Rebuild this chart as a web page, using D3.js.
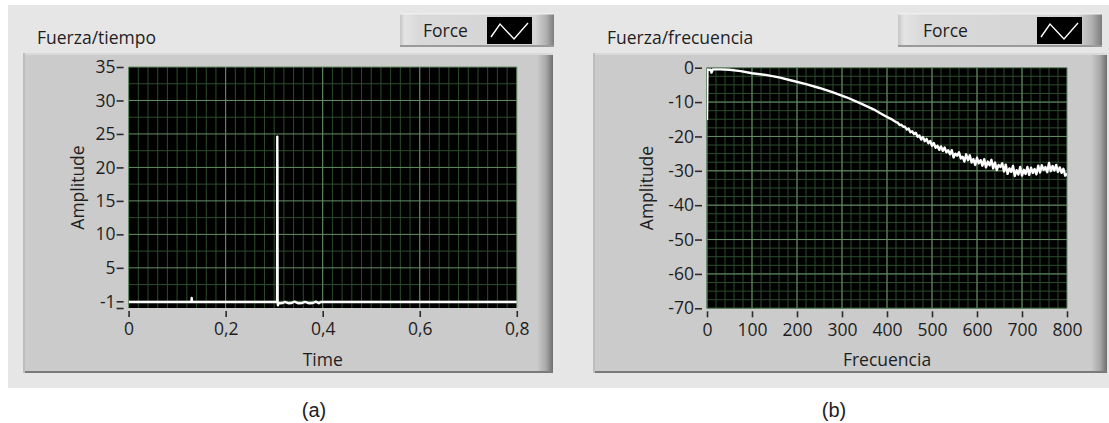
<!DOCTYPE html>
<html><head><meta charset="utf-8">
<script src="https://cdn.jsdelivr.net/npm/d3@7"></script>
<style>
html,body{margin:0;padding:0;background:#fff;}
svg{display:block;}
text{font-family:"Open Sans","Noto Sans",sans-serif;fill:#1e1e1e;}
</style></head><body>
<svg id="chart" width="1109" height="423"></svg>
<script>
// ---- Force vs time (impact hammer pulse) ----
const timeS = [0, 0.1295, 0.1300, 0.1305, 0.3060, 0.3064, 0.3067, 0.3071, 0.3078, 0.3090, 0.3120,
  0.3180, 0.3220, 0.3300, 0.3360, 0.3420, 0.3500, 0.3580, 0.3640, 0.3720, 0.3800, 0.3860,
  0.3920, 0.3960, 0.8];
const forceT = [-0.1, -0.1, 0.5, -0.1, -0.1, 24.6, 20.0, -0.2, -0.6, -0.25, -0.3,
  -0.25, -0.1, -0.3, -0.25, -0.05, -0.3, -0.25, -0.1, -0.3, -0.25, -0.05,
  -0.3, -0.1, -0.1];
const timeTicks = [0, 0.2, 0.4, 0.6, 0.8];
const forceTicks = [35, 30, 25, 20, 15, 10, 5, 0, -1];

// ---- Force spectrum (dB) ----
const freqHz = [0, 1, 8, 10, 13, 30, 50, 75, 100, 130, 160, 190, 220, 250, 280, 310, 340, 370, 390, 404, 412, 416,
  420, 424, 428, 432, 436, 440, 444, 448, 452, 456, 460, 464, 468, 472, 476,
  480, 484, 488, 492, 496, 500, 504, 508, 512, 516, 520, 524, 528, 532, 536,
  540, 544, 548, 552, 556, 560, 564, 568, 572, 576, 580, 584, 588, 592, 596,
  600, 604, 608, 612, 616, 620, 624, 628, 632, 636, 640, 644, 648, 652, 656,
  660, 664, 668, 672, 676, 680, 684, 688, 692, 696, 700, 704, 708, 712, 716,
  720, 724, 728, 732, 736, 740, 744, 748, 752, 756, 760, 764, 768, 772, 776,
  780, 784, 788, 792, 796, 800];
const ampDb = [-15.2, -0.6, -0.6, -1.4, -0.5, -0.5, -0.6, -1.0, -1.6, -2.1, -2.8, -3.8, -4.8, -5.9, -7.2, -8.6, -10.3, -12.1, -13.6, -14.6, -15.1, -15.5,
  -15.8, -16.0, -16.7, -16.6, -17.2, -17.2, -18.0, -17.7, -18.8, -18.5, -19.3, -18.9, -20.1, -19.7, -20.9,
  -20.2, -21.4, -20.7, -22.0, -21.3, -22.7, -21.9, -23.3, -22.7, -23.9, -22.9, -24.2, -23.2, -24.6, -24.0,
  -25.2, -24.0, -26.1, -25.0, -25.6, -24.6, -26.4, -25.9, -27.3, -25.2, -26.9, -25.5, -27.6, -26.6, -28.3,
  -26.2, -27.8, -26.9, -28.5, -26.6, -29.0, -27.3, -28.4, -26.8, -29.3, -27.6, -29.8, -28.3, -28.9, -27.8,
  -30.2, -28.2, -30.9, -29.3, -30.3, -28.6, -31.5, -29.8, -31.1, -28.9, -31.4, -29.7, -30.9, -28.9, -31.2,
  -29.1, -30.6, -29.5, -31.0, -28.5, -30.5, -28.4, -29.7, -28.9, -30.4, -27.7, -30.1, -28.6, -29.9, -28.3,
  -30.3, -29.0, -30.6, -29.4, -31.4, -30.8];
const freqTicks = [0, 100, 200, 300, 400, 500, 600, 700, 800];
const dbTicks = [0, -10, -20, -30, -40, -50, -60, -70];

const FONT = '"Open Sans","Noto Sans",sans-serif';
const FS = 17.5;

const svg = d3.select("#chart");
const defs = svg.append("defs");

// gradients for the 3D-looking frames
function hGrad(id, stops) {
  const g = defs.append("linearGradient").attr("id", id).attr("x1", 0).attr("x2", 1).attr("y1", 0).attr("y2", 0);
  stops.forEach(s => g.append("stop").attr("offset", s[0]).attr("stop-color", s[1]));
}
hGrad("panelEdge", [[0, "#cbcbcb"], [0.55, "#a9a9a9"], [1, "#6e6e6e"]]);
hGrad("btn", [[0, "#c6c6c6"], [0.03, "#e4e4e4"], [0.12, "#d9d9d9"], [0.88, "#d4d4d4"], [0.95, "#b0b0b0"], [1, "#7c7c7c"]]);

// outer light background
svg.append("rect").attr("x", 8).attr("y", 5).attr("width", 1101).attr("height", 383).attr("fill", "#e6e6e6");

function drawPanel(cfg) {
  const g = svg.append("g");
  const p = cfg.panel;
  // inner graph frame
  g.append("rect").attr("x", p.x).attr("y", p.y).attr("width", p.w).attr("height", p.h).attr("fill", "#cbcbcb");
  g.append("rect").attr("x", p.x + p.w - 16).attr("y", p.y).attr("width", 16).attr("height", p.h).attr("fill", "url(#panelEdge)");
  g.append("rect").attr("x", p.x).attr("y", p.y).attr("width", p.w).attr("height", 2).attr("fill", "#d9d9d9");
  g.append("rect").attr("x", p.x).attr("y", p.y + p.h - 2).attr("width", p.w).attr("height", 2).attr("fill", "#7a7a7a");
  g.append("rect").attr("x", p.x).attr("y", p.y).attr("width", 2).attr("height", p.h).attr("fill", "#bdbdbd");

  // title
  g.append("text").attr("x", cfg.titleX).attr("y", 44).attr("font-size", FS).text(cfg.title);

  // legend button
  const L = cfg.legend;
  g.append("rect").attr("x", L.x).attr("y", 13).attr("width", L.w).attr("height", 34).attr("fill", "url(#btn)");
  g.append("rect").attr("x", L.x).attr("y", 45).attr("width", L.w).attr("height", 2).attr("fill", "#9a9a9a");
  g.append("rect").attr("x", L.x).attr("y", 13).attr("width", L.w).attr("height", 1.5).attr("fill", "#efefef");
  g.append("text").attr("x", L.textX).attr("y", 37).attr("font-size", FS).text("Force");
  g.append("rect").attr("x", L.swX).attr("y", 17).attr("width", 45).attr("height", 27).attr("fill", "#000");
  g.append("path")
    .attr("d", d3.line()([[L.swX + 4, L.swY + 20], [L.swX + 13, L.swY + 7], [L.swX + 27, L.swY + 22], [L.swX + 41, L.swY + 6]]))
    .attr("fill", "none").attr("stroke", "#fff").attr("stroke-width", 1.4);

  const x = cfg.x, y = cfg.y;
  const [x0, x1] = x.range(), [y0, y1] = y.range();
  // plot background
  g.append("rect").attr("x", x0).attr("y", y1).attr("width", x1 - x0).attr("height", y0 - y1).attr("fill", "#000");

  // grids
  const grid = g.append("g");
  cfg.xMinor.forEach(v => grid.append("line").attr("x1", x(v)).attr("x2", x(v)).attr("y1", y1).attr("y2", y0)
    .attr("stroke", "#2c4c2c").attr("stroke-width", 1));
  cfg.yMinor.forEach(v => grid.append("line").attr("y1", y(v)).attr("y2", y(v)).attr("x1", x0).attr("x2", x1)
    .attr("stroke", "#2c4c2c").attr("stroke-width", 1));
  cfg.xMajor.forEach(v => grid.append("line").attr("x1", x(v)).attr("x2", x(v)).attr("y1", y1).attr("y2", y0)
    .attr("stroke", "#668f66").attr("stroke-width", 1));
  cfg.yMajor.forEach(v => grid.append("line").attr("y1", y(v)).attr("y2", y(v)).attr("x1", x0).attr("x2", x1)
    .attr("stroke", "#668f66").attr("stroke-width", 1));

  // data trace
  const clipId = cfg.id + "clip";
  defs.append("clipPath").attr("id", clipId).append("rect")
    .attr("x", x0).attr("y", y1).attr("width", x1 - x0).attr("height", y0 - y1);
  const pts = cfg.xs.map((v, i) => [x(v), y(cfg.ys[i])]);
  g.append("path").attr("clip-path", `url(#${clipId})`)
    .attr("d", d3.line()(pts)).attr("fill", "none").attr("stroke", "#fff")
    .attr("stroke-width", 2.4).attr("stroke-linejoin", "round");

  // axes
  const ax = g.append("g").attr("transform", `translate(0,${y0 + 3})`)
    .call(d3.axisBottom(x).tickValues(cfg.xTicks).tickSize(6).tickPadding(6).tickFormat(cfg.xFmt));
  const ay = g.append("g").attr("transform", `translate(${x0 - 5},0)`)
    .call(d3.axisLeft(y).tickValues(cfg.yTicks).tickSize(7).tickPadding(1).tickFormat(cfg.yFmt));
  [ax, ay].forEach(a => {
    a.select(".domain").remove();
    a.selectAll("line").attr("stroke", "#2b2b2b").attr("stroke-width", 1.6);
    a.selectAll("text").attr("font-size", FS).attr("fill", "#1e1e1e").style("font-family", FONT);
  });
  if (cfg.yAdjust) cfg.yAdjust(ay);

  // axis names
  g.append("text").attr("x", (x0 + x1) / 2).attr("y", 366).attr("text-anchor", "middle").attr("font-size", FS).text(cfg.xName);
  g.append("text").attr("transform", `translate(${cfg.yNameX},${(y0 + y1) / 2}) rotate(-90)`)
    .attr("text-anchor", "middle").attr("font-size", FS).text("Amplitude");

  // caption
  svg.append("text").attr("x", cfg.capX).attr("y", 417).attr("text-anchor", "middle")
    .attr("font-size", 20).style("font-family", '"Liberation Sans",Arial,sans-serif').attr("fill", "#111").text(cfg.caption);
}

const comma = d => String(d).replace(".", ",");

drawPanel({
  id: "time",
  panel: { x: 23, y: 53, w: 530, h: 320 },
  title: "Fuerza/tiempo", titleX: 37,
  legend: { x: 400, w: 154, textX: 423, swX: 487, swY: 17 },
  x: d3.scaleLinear([0, 0.8], [128.6, 516.8]),
  y: d3.scaleLinear([-1, 35], [308, 67]),
  xMajor: timeTicks, xMinor: d3.range(0, 0.8, 0.02),
  yMajor: d3.range(0, 36, 5), yMinor: d3.range(2.5, 35, 5),
  xs: timeS, ys: forceT,
  xTicks: timeTicks, xFmt: comma,
  yTicks: forceTicks, yFmt: d => d === 0 ? "" : String(d),
  yAdjust: ay => ay.selectAll(".tick").filter(d => d === -1).select("text").attr("dy", "-0.05em"),
  xName: "Time", yNameX: 84, caption: "(a)", capX: 314
});

drawPanel({
  id: "freq",
  panel: { x: 593, y: 53, w: 514, h: 320 },
  title: "Fuerza/frecuencia", titleX: 607,
  legend: { x: 898, w: 204, textX: 923, swX: 1037, swY: 17 },
  x: d3.scaleLinear([0, 800], [707, 1067]),
  y: d3.scaleLinear([-70, 0], [308.3, 67.7]),
  xMajor: freqTicks, xMinor: d3.range(0, 800, 20),
  yMajor: dbTicks, yMinor: d3.range(-70, 0, 2.5),
  xs: freqHz, ys: ampDb,
  xTicks: freqTicks, xFmt: d => String(d),
  yTicks: dbTicks, yFmt: d => String(d),
  xName: "Frecuencia", yNameX: 653, caption: "(b)", capX: 834
});
</script>
</body></html>
